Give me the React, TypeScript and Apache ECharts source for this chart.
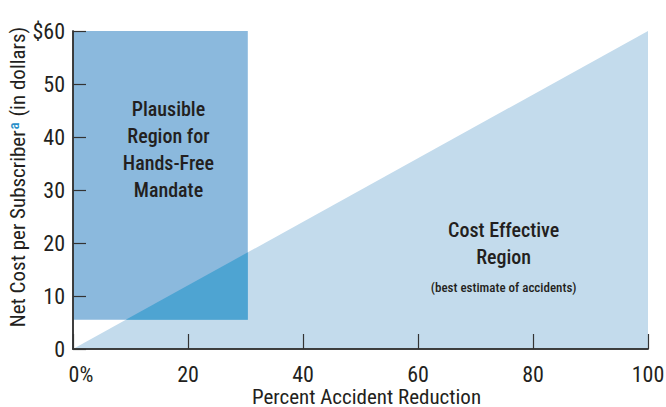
import React, { useEffect, useRef } from "react";
import * as echarts from "echarts";

const xTicks = [0, 20, 40, 60, 80, 100];
const yTicks = [0, 10, 20, 30, 40, 50, 60];
// Cost effective triangle: (0,0) -> (100,60) -> (100,0)
const triangleX = [0, 100, 100];
const triangleY = [0, 60, 0];
// Plausible region rectangle
const rectX = [0, 30.4];
const rectY = [5.5, 60];

const FONT = "'Liberation Sans Narrow', 'Roboto Condensed', 'DejaVu Sans Condensed', sans-serif";
const TXT = "#231f20";

export default function App() {
  const ref = useRef<HTMLDivElement>(null);
  useEffect(() => {
    if (!ref.current) return;
    const chart = echarts.init(ref.current, undefined, { renderer: "svg" });
    const slope = (triangleY[1] - triangleY[0]) / (triangleX[1] - triangleX[0]);
    const triPts = triangleX.map((x, i) => [x, triangleY[i]]);
    const rectPts = [
      [rectX[0], rectY[0]],
      [rectX[1], rectY[0]],
      [rectX[1], rectY[1]],
      [rectX[0], rectY[1]],
    ];
    const overlapPts = [
      [rectY[0] / slope, rectY[0]],
      [rectX[1], rectY[0]],
      [rectX[1], rectX[1] * slope],
    ];
    const poly = (pts: number[][], color: string) => ({
      type: "custom",
      coordinateSystem: "cartesian2d",
      xAxisIndex: 0,
      yAxisIndex: 0,
      data: [[0, 0]],
      silent: true,
      renderItem: (_p: any, api: any) => ({
        type: "polygon",
        shape: { points: pts.map((p) => api.coord(p)) },
        style: { fill: color },
      }),
    });
    const textSeries = (x: number, y: number, text: string, size: number, lh: number) => ({
      type: "custom",
      coordinateSystem: "cartesian2d",
      xAxisIndex: 0,
      yAxisIndex: 0,
      data: [[x, y]],
      silent: true,
      z: 5,
      renderItem: (_p: any, api: any) => {
        const c = api.coord([x, y]);
        return {
          type: "text",
          x: c[0],
          y: c[1],
          style: {
            text,
            fill: TXT,
            fontSize: size,
            fontFamily: FONT,
            fontWeight: 500,
            lineHeight: lh,
            align: "center",
            verticalAlign: "middle",
          },
        };
      },
    });
    const axisLine = { show: true, lineStyle: { color: "#333", width: 1.5 } };
    chart.setOption({
      animation: false,
      grid: { left: 73, right: 18, top: 31, bottom: 58, outerBoundsMode: "none", containLabel: false },
      xAxis: [
        {
          type: "value",
          min: 0,
          max: 100,
          interval: 20,
          z: 10,
          axisLine,
          axisTick: { show: true, inside: true, length: 15, lineStyle: { color: "#333", width: 1.2 } },
          splitLine: { show: false },
          axisLabel: {
            margin: 14,
            color: TXT,
            fontFamily: FONT,
            fontSize: 22,
            formatter: (v: number) => (v === 0 ? "{z|0%}" : String(v)),
            rich: { z: { fontFamily: FONT, fontSize: 22, color: TXT, padding: [0, 0, 0, 16] } },
          },
          name: "Percent Accident Reduction",
          nameLocation: "middle",
          nameGap: 37,
          nameMoveOverlap: false,
          nameTextStyle: { color: TXT, fontFamily: FONT, fontSize: 21, padding: [0, 0, 0, 12] },
        },
        {
          type: "value",
          min: 0,
          max: 100,
          position: "top",
          z: 10,
          axisLine,
          axisTick: { show: false },
          axisLabel: { show: false },
          splitLine: { show: false },
        },
      ],
      yAxis: [
        {
          type: "value",
          min: 0,
          max: 60,
          interval: 10,
          z: 10,
          axisLine,
          axisTick: { show: true, inside: true, length: 13, lineStyle: { color: "#333", width: 1.2 } },
          splitLine: { show: false },
          axisLabel: {
            margin: 8,
            color: TXT,
            fontFamily: FONT,
            fontSize: 22,
            padding: [0, 0, 11, 0],
            formatter: (v: number) => (v === 60 ? "$60" : String(v)),
          },
          name: "Net Cost per Subscriber{sup|a} (in dollars)",
          nameLocation: "middle",
          nameGap: 44,
          nameMoveOverlap: false,
          nameTextStyle: {
            color: TXT,
            fontFamily: FONT,
            fontSize: 21,
            padding: [0, 0, 0, 26],
            rich: {
              sup: { fontFamily: FONT, fontSize: 15, fontWeight: 500, color: "#2a8fc9", padding: [0, 1, 8, 1] },
            },
          },
        },
        {
          type: "value",
          min: 0,
          max: 60,
          position: "right",
          z: 10,
          axisLine,
          axisTick: { show: false },
          axisLabel: { show: false },
          splitLine: { show: false },
        },
      ],
      series: [
        poly(triPts, "#c3dbec"),
        poly(rectPts, "#8bb9dd"),
        poly(overlapPts, "#4ea4d2"),
        textSeries(16.6, 37.7, "Plausible\nRegion for\nHands-Free\nMandate", 20, 27),
        textSeries(74.9, 19.9, "Cost Effective\nRegion", 20, 27),
        textSeries(74.9, 11.6, "(best estimate of accidents)", 13, 16),
      ],
    });
    return () => chart.dispose();
  }, []);
  return <div ref={ref} style={{ width: 666, height: 407, position: "absolute", left: 0, top: 0 }} />;
}
